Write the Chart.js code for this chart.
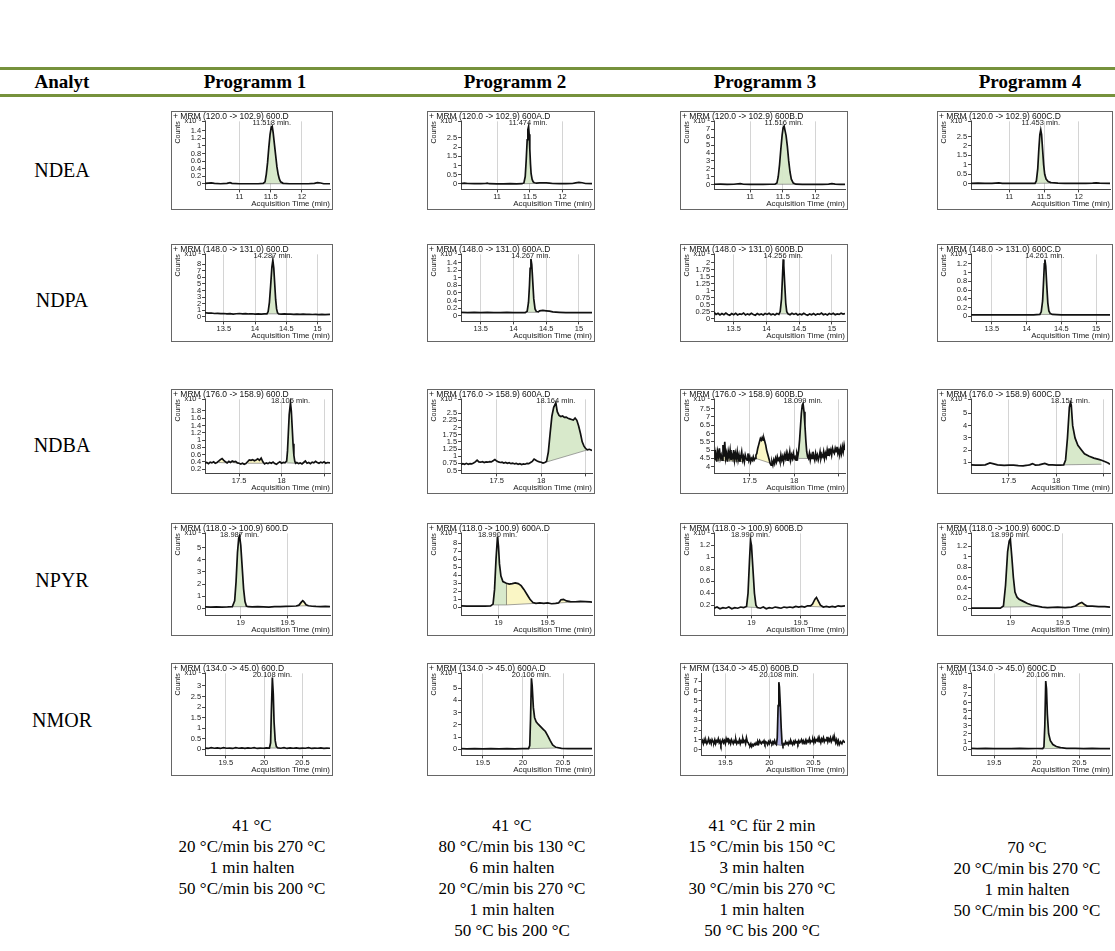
<!DOCTYPE html>
<html>
<head>
<meta charset="utf-8">
<script src="https://cdn.jsdelivr.net/npm/chart.js@4.4.1/dist/chart.umd.min.js"></script>
<style>
  body { margin:0; width:1115px; height:951px; position:relative; overflow:hidden; background:#fff;
         font-family:"Liberation Serif","Times New Roman",serif; color:#000; }
  .rule { position:absolute; left:0; width:1115px; height:3px; background:#76923c; }
  .hd { position:absolute; font-weight:bold; font-size:19px; transform:translate(-50%,-50%); white-space:nowrap; }
  .an { position:absolute; font-size:20px; transform:translate(-50%,-50%); white-space:nowrap; }
  .prog { position:absolute; font-size:17px; line-height:21px; text-align:center; transform:translateX(-50%); white-space:nowrap; }
  .box { position:absolute; border:1px solid #666; box-sizing:border-box; background:#fff; }
  .box canvas { display:block; }
</style>
</head>
<body>
<div class="rule" style="top:67px"></div>
<div class="rule" style="top:94px"></div>
<script>
// ---- table text ----
const analytes = ['NDEA', 'NDPA', 'NDBA', 'NPYR', 'NMOR'];
const programmes = ['Programm 1', 'Programm 2', 'Programm 3', 'Programm 4'];
const temperaturePrograms = [
  ['41 °C', '20 °C/min bis 270 °C', '1 min halten', '50 °C/min bis 200 °C'],
  ['41 °C', '80 °C/min bis 130 °C', '6 min halten', '20 °C/min bis 270 °C', '1 min halten', '50 °C bis 200 °C'],
  ['41 °C für 2 min', '15 °C/min bis 150 °C', '3 min halten', '30 °C/min bis 270 °C', '1 min halten', '50 °C bis 200 °C'],
  ['70 °C', '20 °C/min bis 270 °C', '1 min halten', '50 °C/min bis 200 °C']
];

// ---- chromatogram meta ----
const transitions = ['120.0 -> 102.9', '148.0 -> 131.0', '176.0 -> 158.9', '118.0 -> 100.9', '134.0 -> 45.0'];
const dataFiles = ['600.D', '600A.D', '600B.D', '600C.D'];
const retentionTimes = [
  [11.518, 11.474, 11.516, 11.453],
  [14.287, 14.267, 14.256, 14.261],
  [18.105, 18.164, 18.099, 18.151],
  [18.987, 18.990, 18.990, 18.996],
  [20.108, 20.106, 20.108, 20.106]
];
const countExponents = [[3, 3, 2, 3], [2, 3, 2, 3], [2, 2, 1, 2], [2, 2, 2, 3], [1, 1, 0, 1]];
const timeRanges = [[10.45, 12.45], [13.2, 15.2], [17.1, 18.57], [18.62, 19.95], [19.23, 20.86]];
const timeTicks = [[11, 11.5, 12], [13.5, 14, 14.5, 15], [17.5, 18, 18.5], [19, 19.5], [19.5, 20, 20.5]];
const timeTickLabels = [['11', '11.5', '12'], ['13.5', '14', '14.5', '15'], ['17.5', '18', ''], ['19', '19.5'], ['19.5', '20', '20.5']];

// count axis: [min, max] and labelled ticks (in units of the x10^n factor)
const countRanges = [
  [[-0.15, 1.65], [-0.3, 3.4], [-0.6, 8.0], [-0.3, 3.3]],
  [[-0.7, 9.5], [-0.15, 1.62], [-0.1, 2.3], [-0.12, 1.42]],
  [[0.08, 2.12], [0.4, 2.98], [3.6, 8.05], [0.1, 6.15]],
  [[-0.6, 6.2], [-1.0, 9.2], [0.03, 1.4], [-0.13, 1.45]],
  [[-0.3, 3.6], [-0.5, 6.2], [-0.6, 7.8], [-0.8, 9.8]]
];
const countTicks = [
  [[0, 0.2, 0.4, 0.6, 0.8, 1, 1.2, 1.4], [0, 0.5, 1, 1.5, 2, 2.5], [0, 1, 2, 3, 4, 5, 6, 7], [0, 0.5, 1, 1.5, 2, 2.5]],
  [[0, 1, 2, 3, 4, 5, 6, 7, 8], [0, 0.2, 0.4, 0.6, 0.8, 1, 1.2, 1.4], [0, 0.25, 0.5, 0.75, 1, 1.25, 1.5, 1.75, 2], [0, 0.2, 0.4, 0.6, 0.8, 1, 1.2]],
  [[0.2, 0.4, 0.6, 0.8, 1, 1.2, 1.4, 1.6, 1.8], [0.5, 0.75, 1, 1.25, 1.5, 1.75, 2, 2.25, 2.5], [4, 4.5, 5, 5.5, 6, 6.5, 7, 7.5], [1, 2, 3, 4, 5]],
  [[0, 1, 2, 3, 4, 5], [0, 1, 2, 3, 4, 5, 6, 7, 8], [0.2, 0.4, 0.6, 0.8, 1, 1.2], [0, 0.2, 0.4, 0.6, 0.8, 1, 1.2]],
  [[0, 0.5, 1, 1.5, 2, 2.5, 3], [0, 1, 2, 3, 4, 5], [0, 1, 2, 3, 4, 5, 6, 7], [0, 1, 2, 3, 4, 5, 6, 7, 8]]
];

// ---- traces: [time (min), counts (x10^n)] ----
const NDEA_P1 = [[10.45,0.01],[10.55,0.02],[10.6,0.01],[10.7,0.0],[10.8,0.01],[10.85,0.03],[10.88,0.01],[11.0,0.0],[11.1,0.0],[11.2,0.0],[11.3,0.0],[11.38,0.01],[11.41,0.05],[11.43,0.25],[11.45,0.55],[11.47,0.95],[11.49,1.3],[11.51,1.5],[11.525,1.52],[11.54,1.35],[11.56,1.05],[11.58,0.75],[11.6,0.45],[11.62,0.25],[11.64,0.12],[11.66,0.05],[11.7,0.01],[11.8,0.0],[11.9,0.0],[12.0,0.0],[12.1,0.0],[12.2,0.01],[12.25,0.03],[12.3,0.02],[12.35,0.0],[12.45,0.0]];
const NDEA_P2 = [[10.45,0.02],[10.5,0.04],[10.55,0.02],[10.65,0.01],[10.75,0.01],[10.82,0.02],[10.85,0.04],[10.88,0.01],[11.0,0.0],[11.1,0.0],[11.2,0.01],[11.3,0.0],[11.38,0.01],[11.41,0.05],[11.43,0.4],[11.445,1.3],[11.46,2.4],[11.47,2.95],[11.48,3.1],[11.49,2.7],[11.5,1.9],[11.51,1.1],[11.52,0.55],[11.535,0.25],[11.55,0.12],[11.57,0.06],[11.6,0.04],[11.65,0.05],[11.7,0.05],[11.75,0.05],[11.8,0.04],[11.85,0.02],[11.95,0.01],[12.05,0.01],[12.15,0.02],[12.2,0.05],[12.25,0.08],[12.3,0.06],[12.35,0.02],[12.45,0.01]];
const NDEA_P3 = [[10.45,0.05],[10.55,0.06],[10.65,0.04],[10.75,0.05],[10.85,0.12],[10.9,0.05],[11.0,0.04],[11.1,0.05],[11.2,0.03],[11.3,0.05],[11.38,0.05],[11.41,0.2],[11.43,1.0],[11.45,2.5],[11.47,4.5],[11.49,6.3],[11.505,7.2],[11.52,7.4],[11.535,6.8],[11.55,6.2],[11.57,4.8],[11.59,3.0],[11.61,1.6],[11.63,0.7],[11.66,0.2],[11.7,0.06],[11.8,0.04],[11.9,0.05],[12.0,0.03],[12.1,0.04],[12.2,0.06],[12.25,0.12],[12.3,0.06],[12.38,0.04],[12.45,0.03]];
const NDEA_P4 = [[10.45,0.02],[10.55,0.03],[10.65,0.02],[10.75,0.02],[10.85,0.04],[10.9,0.02],[11.0,0.02],[11.1,0.02],[11.2,0.02],[11.3,0.02],[11.37,0.02],[11.39,0.15],[11.41,0.8],[11.425,1.8],[11.44,2.6],[11.453,2.85],[11.465,2.6],[11.48,1.8],[11.495,1.0],[11.51,0.5],[11.53,0.25],[11.56,0.12],[11.6,0.06],[11.7,0.03],[11.8,0.02],[11.9,0.02],[12.0,0.02],[12.1,0.02],[12.2,0.03],[12.25,0.05],[12.3,0.03],[12.45,0.02]];

const NDPA_P1 = [[13.20,0.62],[13.25,0.55],[13.30,0.58],[13.35,0.50],[13.40,0.52],[13.45,0.47],[13.50,0.50],[13.55,0.44],[13.60,0.48],[13.65,0.42],[13.70,0.46],[13.75,0.50],[13.80,0.45],[13.85,0.48],[13.90,0.43],[13.95,0.46],[14.00,0.42],[14.05,0.45],[14.10,0.41],[14.15,0.44],[14.19,0.45],[14.21,0.8],[14.23,2.2],[14.25,4.8],[14.27,7.6],[14.285,8.6],[14.30,7.4],[14.315,5.0],[14.33,2.6],[14.345,1.2],[14.36,0.6],[14.38,0.45],[14.42,0.42],[14.47,0.44],[14.52,0.40],[14.57,0.42],[14.62,0.38],[14.67,0.41],[14.72,0.37],[14.77,0.40],[14.82,0.36],[14.87,0.38],[14.92,0.35],[14.97,0.38],[15.02,0.34],[15.07,0.37],[15.12,0.33],[15.2,0.36]];
const NDPA_P2 = [[13.2,0.09],[13.3,0.08],[13.4,0.09],[13.5,0.08],[13.6,0.09],[13.7,0.08],[13.8,0.08],[13.9,0.09],[14.0,0.08],[14.1,0.08],[14.18,0.08],[14.21,0.12],[14.23,0.35],[14.245,0.8],[14.255,1.25],[14.267,1.5],[14.28,1.35],[14.295,0.9],[14.31,0.45],[14.33,0.18],[14.35,0.11],[14.38,0.1],[14.40,0.13],[14.45,0.14],[14.5,0.13],[14.55,0.12],[14.6,0.1],[14.7,0.09],[14.8,0.08],[14.9,0.08],[15.0,0.08],[15.1,0.08],[15.2,0.08]];
const NDPA_P3 = [[13.20,0.22],[13.23,0.15],[13.26,0.19],[13.29,0.13],[13.32,0.18],[13.35,0.14],[13.38,0.20],[13.41,0.15],[13.44,0.12],[13.47,0.18],[13.50,0.14],[13.53,0.19],[13.56,0.13],[13.59,0.17],[13.62,0.15],[13.65,0.20],[13.68,0.13],[13.71,0.17],[13.74,0.14],[13.77,0.19],[13.80,0.15],[13.83,0.12],[13.86,0.18],[13.89,0.14],[13.92,0.17],[13.95,0.13],[13.98,0.18],[14.01,0.15],[14.04,0.19],[14.07,0.14],[14.10,0.17],[14.13,0.13],[14.16,0.18],[14.19,0.15],[14.21,0.25],[14.23,0.7],[14.245,1.5],[14.256,2.12],[14.265,1.9],[14.28,1.2],[14.295,0.55],[14.31,0.25],[14.33,0.17],[14.36,0.14],[14.39,0.19],[14.42,0.15],[14.45,0.18],[14.48,0.13],[14.51,0.17],[14.54,0.14],[14.57,0.19],[14.60,0.15],[14.63,0.12],[14.66,0.17],[14.69,0.14],[14.72,0.18],[14.75,0.13],[14.78,0.17],[14.81,0.15],[14.84,0.20],[14.87,0.14],[14.90,0.17],[14.93,0.13],[14.96,0.18],[14.99,0.15],[15.02,0.19],[15.05,0.14],[15.08,0.17],[15.11,0.15],[15.14,0.19],[15.17,0.16],[15.20,0.18]];
const NDPA_P4 = [[13.2,0.03],[13.4,0.03],[13.6,0.03],[13.8,0.03],[14.0,0.03],[14.1,0.03],[14.19,0.04],[14.21,0.1],[14.23,0.35],[14.245,0.85],[14.255,1.2],[14.263,1.3],[14.275,1.15],[14.29,0.7],[14.305,0.3],[14.32,0.12],[14.34,0.06],[14.37,0.04],[14.5,0.03],[14.7,0.03],[14.9,0.03],[15.1,0.03],[15.2,0.03]];

const NDBA_P1 = [[17.10,0.36],[17.12,0.38],[17.14,0.35],[17.16,0.39],[17.18,0.37],[17.20,0.40],[17.22,0.36],[17.24,0.38],[17.26,0.42],[17.28,0.46],[17.30,0.49],[17.32,0.44],[17.34,0.40],[17.36,0.37],[17.38,0.41],[17.40,0.38],[17.42,0.42],[17.44,0.40],[17.46,0.41],[17.48,0.37],[17.50,0.36],[17.52,0.34],[17.54,0.36],[17.56,0.33],[17.58,0.35],[17.60,0.40],[17.62,0.45],[17.64,0.44],[17.66,0.46],[17.68,0.43],[17.70,0.45],[17.72,0.48],[17.74,0.44],[17.76,0.50],[17.78,0.40],[17.80,0.34],[17.82,0.37],[17.84,0.35],[17.86,0.38],[17.88,0.36],[17.90,0.39],[17.92,0.35],[17.94,0.33],[17.96,0.37],[17.98,0.40],[18.00,0.36],[18.02,0.38],[18.04,0.37],[18.06,0.42],[18.07,0.7],[18.08,1.2],[18.09,1.7],[18.105,2.03],[18.115,1.8],[18.125,1.35],[18.135,0.9],[18.145,0.58],[18.155,0.42],[18.165,0.36],[18.18,0.38],[18.20,0.35],[18.22,0.37],[18.24,0.34],[18.26,0.38],[18.28,0.42],[18.30,0.36],[18.32,0.38],[18.34,0.35],[18.36,0.39],[18.38,0.37],[18.40,0.41],[18.42,0.38],[18.44,0.36],[18.46,0.39],[18.48,0.37],[18.50,0.40],[18.52,0.36],[18.54,0.38],[18.57,0.37]];
const NDBA_P2 = [[17.10,0.70],[17.12,0.74],[17.14,0.72],[17.16,0.75],[17.18,0.72],[17.20,0.74],[17.22,0.73],[17.24,0.76],[17.26,0.80],[17.28,0.86],[17.30,0.80],[17.32,0.79],[17.34,0.81],[17.36,0.78],[17.38,0.80],[17.40,0.79],[17.42,0.81],[17.44,0.80],[17.46,0.84],[17.48,0.88],[17.50,0.83],[17.52,0.80],[17.54,0.78],[17.56,0.79],[17.58,0.76],[17.60,0.78],[17.62,0.75],[17.64,0.77],[17.66,0.74],[17.68,0.76],[17.70,0.73],[17.72,0.75],[17.74,0.72],[17.76,0.74],[17.78,0.71],[17.80,0.73],[17.82,0.72],[17.84,0.75],[17.86,0.74],[17.88,0.78],[17.90,0.82],[17.92,0.90],[17.94,0.86],[17.96,0.82],[17.98,0.80],[18.00,0.79],[18.02,0.76],[18.04,0.78],[18.06,0.82],[18.08,1.15],[18.10,1.8],[18.12,2.4],[18.14,2.7],[18.164,2.86],[18.18,2.55],[18.20,2.42],[18.22,2.38],[18.24,2.40],[18.26,2.35],[18.28,2.36],[18.30,2.32],[18.32,2.30],[18.34,2.28],[18.36,2.26],[18.38,2.33],[18.40,2.25],[18.42,2.05],[18.44,1.80],[18.46,1.50],[18.48,1.35],[18.50,1.26],[18.52,1.22],[18.54,1.24],[18.57,1.20]];
const NDBA_P3 = [[17.08,4.9],[17.09,4.5],[17.10,5.0],[17.11,4.4],[17.12,4.8],[17.13,4.3],[17.14,4.9],[17.15,4.6],[17.16,5.1],[17.17,4.5],[17.18,4.7],[17.19,4.4],[17.20,5.3],[17.21,4.6],[17.22,5.5],[17.23,4.5],[17.24,4.8],[17.25,4.3],[17.26,4.9],[17.27,4.6],[17.28,5.0],[17.29,4.4],[17.30,4.7],[17.31,4.5],[17.32,5.0],[17.33,4.4],[17.34,4.8],[17.35,4.5],[17.36,4.9],[17.37,4.4],[17.38,4.7],[17.39,4.3],[17.40,4.6],[17.41,4.9],[17.42,4.4],[17.43,4.6],[17.44,4.3],[17.45,4.7],[17.46,4.5],[17.47,4.4],[17.48,4.8],[17.49,4.4],[17.50,4.6],[17.51,4.3],[17.52,4.5],[17.53,4.4],[17.54,4.6],[17.55,4.4],[17.56,4.5],[17.57,4.7],[17.58,4.8],[17.59,5.1],[17.60,5.3],[17.61,5.5],[17.62,5.7],[17.63,5.6],[17.64,5.75],[17.65,5.6],[17.66,5.7],[17.67,5.5],[17.68,5.3],[17.69,5.0],[17.70,4.8],[17.71,4.6],[17.72,4.4],[17.73,4.2],[17.74,4.1],[17.75,4.3],[17.76,4.1],[17.77,4.4],[17.78,4.2],[17.79,4.5],[17.80,4.3],[17.81,4.6],[17.82,4.4],[17.83,4.5],[17.84,4.3],[17.85,4.7],[17.86,4.4],[17.87,4.6],[17.88,4.3],[17.89,4.7],[17.90,4.5],[17.91,4.8],[17.92,4.4],[17.93,4.7],[17.94,4.5],[17.95,4.9],[17.96,4.4],[17.97,4.7],[17.98,4.5],[17.99,4.8],[18.00,4.5],[18.01,4.6],[18.02,4.4],[18.03,4.8],[18.04,4.6],[18.05,5.0],[18.06,5.6],[18.07,6.4],[18.08,7.2],[18.09,7.7],[18.099,7.8],[18.11,7.3],[18.12,6.5],[18.13,5.6],[18.14,4.9],[18.15,4.6],[18.16,4.5],[18.17,4.8],[18.18,4.4],[18.19,4.7],[18.20,4.5],[18.21,4.9],[18.22,4.6],[18.23,4.4],[18.24,4.8],[18.25,4.5],[18.26,4.7],[18.27,4.4],[18.28,4.6],[18.29,4.9],[18.30,4.5],[18.31,4.7],[18.32,4.6],[18.33,4.9],[18.34,4.5],[18.35,4.8],[18.36,4.6],[18.37,5.0],[18.38,4.7],[18.39,5.1],[18.40,4.8],[18.41,5.0],[18.42,4.7],[18.43,5.1],[18.44,4.9],[18.45,4.8],[18.46,5.1],[18.47,4.9],[18.48,5.2],[18.49,4.8],[18.50,5.0],[18.51,4.7],[18.52,5.1],[18.53,4.8],[18.54,5.2],[18.55,4.9],[18.56,5.3],[18.57,5.0]];
const NDBA_P4 = [[17.10,0.8],[17.15,0.78],[17.2,0.78],[17.25,0.8],[17.3,0.95],[17.33,0.9],[17.38,0.8],[17.45,0.75],[17.5,0.77],[17.55,0.78],[17.6,0.74],[17.65,0.72],[17.7,0.77],[17.72,0.8],[17.75,0.9],[17.78,0.78],[17.82,0.8],[17.85,0.86],[17.88,0.92],[17.92,0.8],[17.96,0.79],[18.0,0.78],[18.04,0.77],[18.08,0.8],[18.1,1.2],[18.12,3.0],[18.14,5.5],[18.151,5.9],[18.16,5.7],[18.175,4.0],[18.2,3.0],[18.23,2.4],[18.27,2.0],[18.3,1.7],[18.35,1.5],[18.4,1.35],[18.45,1.25],[18.48,1.18],[18.52,1.05],[18.55,0.95],[18.57,0.85]];

const NPYR_P1 = [[18.62,0.10],[18.68,0.08],[18.74,0.10],[18.80,0.09],[18.86,0.10],[18.91,0.12],[18.935,0.6],[18.95,2.2],[18.965,4.6],[18.978,5.8],[18.987,6.0],[19.00,5.2],[19.015,3.4],[19.03,1.6],[19.045,0.55],[19.06,0.18],[19.08,0.12],[19.12,0.11],[19.18,0.12],[19.24,0.10],[19.30,0.09],[19.36,0.13],[19.42,0.12],[19.48,0.15],[19.54,0.16],[19.59,0.18],[19.62,0.25],[19.645,0.5],[19.66,0.62],[19.675,0.5],[19.695,0.28],[19.72,0.2],[19.76,0.16],[19.80,0.14],[19.85,0.13],[19.90,0.15],[19.95,0.12]];
const NPYR_P2 = [[18.62,0.18],[18.68,0.16],[18.74,0.17],[18.80,0.15],[18.86,0.16],[18.92,0.17],[18.945,0.4],[18.96,2.2],[18.975,6.0],[18.99,8.8],[19.0,7.6],[19.01,5.4],[19.025,3.9],[19.045,3.2],[19.08,3.0],[19.11,2.9],[19.14,2.95],[19.17,3.05],[19.20,2.95],[19.23,2.7],[19.26,2.2],[19.29,1.6],[19.32,1.0],[19.35,0.6],[19.38,0.5],[19.42,0.55],[19.46,0.5],[19.50,0.55],[19.54,0.45],[19.58,0.5],[19.61,0.55],[19.635,0.95],[19.66,1.0],[19.69,0.8],[19.73,0.72],[19.78,0.7],[19.83,0.75],[19.88,0.72],[19.93,0.68],[19.95,0.65]];
const NPYR_P3 = [[18.62,0.15],[18.65,0.17],[18.68,0.14],[18.71,0.16],[18.74,0.15],[18.77,0.17],[18.80,0.14],[18.83,0.16],[18.86,0.15],[18.89,0.17],[18.92,0.16],[18.95,0.18],[18.965,0.4],[18.98,0.95],[18.99,1.28],[19.0,1.2],[19.015,0.8],[19.03,0.4],[19.045,0.2],[19.06,0.16],[19.09,0.15],[19.12,0.17],[19.15,0.14],[19.18,0.16],[19.21,0.15],[19.24,0.17],[19.27,0.16],[19.30,0.15],[19.33,0.17],[19.36,0.16],[19.39,0.17],[19.42,0.16],[19.45,0.18],[19.48,0.17],[19.51,0.18],[19.54,0.17],[19.57,0.19],[19.60,0.19],[19.62,0.22],[19.645,0.3],[19.66,0.33],[19.675,0.28],[19.70,0.2],[19.73,0.17],[19.76,0.18],[19.79,0.17],[19.82,0.18],[19.85,0.17],[19.88,0.19],[19.91,0.18],[19.95,0.19]];
const NPYR_P4 = [[18.62,0.01],[18.70,0.01],[18.80,0.01],[18.90,0.01],[18.93,0.05],[18.95,0.45],[18.97,1.1],[18.985,1.3],[18.996,1.34],[19.01,1.0],[19.025,0.6],[19.04,0.32],[19.06,0.22],[19.08,0.18],[19.12,0.14],[19.16,0.1],[19.2,0.07],[19.25,0.05],[19.3,0.03],[19.35,0.02],[19.45,0.03],[19.52,0.02],[19.58,0.03],[19.62,0.05],[19.655,0.1],[19.68,0.12],[19.705,0.08],[19.73,0.05],[19.78,0.05],[19.84,0.04],[19.9,0.04],[19.95,0.03]];

const NMOR_P1 = [[19.23,0.05],[19.27,0.03],[19.31,0.07],[19.35,0.04],[19.39,0.06],[19.43,0.03],[19.47,0.07],[19.51,0.04],[19.55,0.05],[19.59,0.03],[19.63,0.07],[19.67,0.04],[19.71,0.06],[19.75,0.03],[19.79,0.06],[19.83,0.04],[19.87,0.07],[19.91,0.03],[19.95,0.05],[19.99,0.04],[20.03,0.06],[20.07,0.05],[20.085,0.3],[20.095,1.8],[20.108,3.4],[20.12,2.6],[20.13,1.3],[20.145,0.4],[20.16,0.12],[20.18,0.06],[20.22,0.04],[20.26,0.07],[20.30,0.03],[20.34,0.06],[20.38,0.04],[20.42,0.06],[20.46,0.03],[20.50,0.05],[20.54,0.04],[20.58,0.07],[20.62,0.03],[20.66,0.05],[20.70,0.04],[20.74,0.06],[20.78,0.03],[20.82,0.05],[20.86,0.04]];
const NMOR_P2 = [[19.23,0.05],[19.3,0.04],[19.4,0.05],[19.5,0.04],[19.6,0.05],[19.7,0.04],[19.8,0.05],[19.9,0.04],[20.0,0.05],[20.07,0.05],[20.085,0.3],[20.095,2.5],[20.106,5.8],[20.115,5.2],[20.13,3.4],[20.145,2.6],[20.165,2.25],[20.19,2.05],[20.22,1.85],[20.25,1.65],[20.28,1.45],[20.31,1.1],[20.34,0.7],[20.37,0.35],[20.41,0.16],[20.48,0.08],[20.56,0.06],[20.66,0.05],[20.76,0.05],[20.86,0.05]];
const NMOR_P3 = [[19.23,0.7],[19.24,0.9],[19.25,0.6],[19.26,1.0],[19.27,0.7],[19.28,0.9],[19.29,0.6],[19.30,0.8],[19.31,1.1],[19.32,0.7],[19.33,0.9],[19.34,0.6],[19.35,1.0],[19.36,0.8],[19.37,0.7],[19.38,1.0],[19.39,0.6],[19.40,0.9],[19.41,0.8],[19.42,1.1],[19.43,0.7],[19.44,0.9],[19.45,0.5],[19.46,0.8],[19.47,1.0],[19.48,0.7],[19.49,0.9],[19.50,0.6],[19.51,1.1],[19.52,0.8],[19.53,1.2],[19.54,0.7],[19.55,0.9],[19.56,0.6],[19.57,1.0],[19.58,0.8],[19.59,0.6],[19.60,0.9],[19.61,0.7],[19.62,1.0],[19.63,0.6],[19.64,0.8],[19.65,0.7],[19.66,1.0],[19.67,0.6],[19.68,0.9],[19.69,0.7],[19.70,1.1],[19.71,0.8],[19.72,0.9],[19.73,0.6],[19.74,1.2],[19.75,0.8],[19.76,0.7],[19.77,0.5],[19.78,0.4],[19.79,0.6],[19.80,0.3],[19.81,0.5],[19.82,0.4],[19.83,0.6],[19.84,0.5],[19.85,0.7],[19.86,0.5],[19.87,0.8],[19.88,0.6],[19.89,0.9],[19.90,0.7],[19.91,0.6],[19.92,0.8],[19.93,0.7],[19.94,0.9],[19.95,0.6],[19.96,0.8],[19.97,0.7],[19.98,0.5],[19.99,0.8],[20.00,0.6],[20.01,0.9],[20.02,0.7],[20.03,0.6],[20.04,0.8],[20.05,0.6],[20.06,0.9],[20.07,0.6],[20.08,0.5],[20.09,1.2],[20.10,4.5],[20.108,6.9],[20.115,6.4],[20.125,4.5],[20.135,2.2],[20.145,0.6],[20.155,0.4],[20.165,0.6],[20.175,0.5],[20.185,0.8],[20.195,0.6],[20.205,0.7],[20.215,0.5],[20.225,0.8],[20.235,0.6],[20.245,0.9],[20.255,0.7],[20.265,0.5],[20.275,0.8],[20.285,0.6],[20.295,0.9],[20.305,0.7],[20.315,0.8],[20.325,0.6],[20.335,0.9],[20.345,0.7],[20.355,0.8],[20.365,1.0],[20.375,0.7],[20.385,0.9],[20.395,0.6],[20.405,0.8],[20.415,1.0],[20.425,0.7],[20.435,0.9],[20.445,0.8],[20.455,1.1],[20.465,0.7],[20.475,0.9],[20.485,0.8],[20.495,1.0],[20.505,0.7],[20.515,1.1],[20.525,0.8],[20.535,1.0],[20.545,0.9],[20.555,1.2],[20.565,0.8],[20.575,1.0],[20.585,0.7],[20.595,1.1],[20.605,0.9],[20.615,1.2],[20.625,0.8],[20.635,1.0],[20.645,0.9],[20.655,1.3],[20.665,0.8],[20.675,1.1],[20.685,0.9],[20.695,1.2],[20.705,0.8],[20.715,1.0],[20.725,1.3],[20.735,0.9],[20.745,1.1],[20.755,0.7],[20.765,1.0],[20.775,0.6],[20.785,0.9],[20.795,0.5],[20.81,0.8],[20.825,0.6],[20.84,0.9],[20.86,0.7]];
const NMOR_P4 = [[19.23,0.1],[19.3,0.08],[19.4,0.1],[19.5,0.07],[19.6,0.09],[19.7,0.07],[19.8,0.1],[19.9,0.08],[20.0,0.09],[20.07,0.08],[20.085,0.3],[20.095,3.0],[20.106,8.8],[20.115,7.8],[20.125,4.5],[20.14,2.0],[20.16,1.1],[20.19,0.6],[20.23,0.35],[20.28,0.2],[20.35,0.12],[20.45,0.1],[20.55,0.08],[20.65,0.1],[20.75,0.08],[20.86,0.08]];

// integrated areas: [from, to, baseline at from, baseline at to, kind, draw split line]
const NDEA_P1_AREAS = [[11.38, 11.7, 0.0, 0.0, 'peak']];
const NDEA_P2_AREAS = [[11.41, 11.57, 0.01, 0.02, 'peak']];
const NDEA_P3_AREAS = [[11.38, 11.7, 0.05, 0.05, 'peak']];
const NDEA_P4_AREAS = [[11.37, 11.6, 0.02, 0.03, 'peak']];
const NDPA_P1_AREAS = [[14.19, 14.38, 0.45, 0.45, 'peak']];
const NDPA_P2_AREAS = [[14.21, 14.35, 0.09, 0.09, 'peak']];
const NDPA_P3_AREAS = [[14.21, 14.33, 0.17, 0.17, 'peak']];
const NDPA_P4_AREAS = [[14.19, 14.34, 0.04, 0.04, 'peak']];
const NDBA_P1_AREAS = [[17.26, 17.36, 0.38, 0.37, 'other'], [17.42, 17.50, 0.38, 0.36, 'other'], [17.60, 17.78, 0.36, 0.36, 'other'], [18.06, 18.165, 0.37, 0.36, 'peak']];
const NDBA_P2_AREAS = [[18.04, 18.52, 0.78, 1.22, 'peak']];
const NDBA_P3_AREAS = [[17.08, 17.45, 4.4, 4.3, 'other'], [17.57, 17.74, 4.5, 4.2, 'other'], [18.05, 18.16, 4.5, 4.5, 'peak']];
const NDBA_P4_AREAS = [[18.08, 18.48, 0.8, 0.85, 'peak']];
const NPYR_P1_AREAS = [[18.91, 19.08, 0.12, 0.12, 'peak'], [19.59, 19.72, 0.18, 0.2, 'other']];
const NPYR_P2_AREAS = [[18.945, 19.08, 0.3, 0.3, 'peak'], [19.08, 19.38, 0.3, 0.5, 'other', true], [19.61, 19.83, 0.55, 0.7, 'other']];
const NPYR_P3_AREAS = [[18.95, 19.06, 0.17, 0.16, 'peak'], [19.60, 19.73, 0.18, 0.17, 'other']];
const NPYR_P4_AREAS = [[18.93, 19.25, 0.03, 0.04, 'peak'], [19.62, 19.73, 0.04, 0.04, 'other']];
const NMOR_P1_AREAS = [[20.07, 20.18, 0.05, 0.05, 'peak']];
const NMOR_P2_AREAS = [[20.07, 20.41, 0.05, 0.1, 'peak']];
const NMOR_P3_AREAS = [[20.08, 20.155, 0.5, 0.4, 'marked']];
const NMOR_P4_AREAS = [[20.07, 20.28, 0.08, 0.1, 'peak']];

const traces = [
  [NDEA_P1, NDEA_P2, NDEA_P3, NDEA_P4],
  [NDPA_P1, NDPA_P2, NDPA_P3, NDPA_P4],
  [NDBA_P1, NDBA_P2, NDBA_P3, NDBA_P4],
  [NPYR_P1, NPYR_P2, NPYR_P3, NPYR_P4],
  [NMOR_P1, NMOR_P2, NMOR_P3, NMOR_P4]
];
const areas = [
  [NDEA_P1_AREAS, NDEA_P2_AREAS, NDEA_P3_AREAS, NDEA_P4_AREAS],
  [NDPA_P1_AREAS, NDPA_P2_AREAS, NDPA_P3_AREAS, NDPA_P4_AREAS],
  [NDBA_P1_AREAS, NDBA_P2_AREAS, NDBA_P3_AREAS, NDBA_P4_AREAS],
  [NPYR_P1_AREAS, NPYR_P2_AREAS, NPYR_P3_AREAS, NPYR_P4_AREAS],
  [NMOR_P1_AREAS, NMOR_P2_AREAS, NMOR_P3_AREAS, NMOR_P4_AREAS]
];

// ---- page geometry ----
const colBoxes = [[171, 162], [427, 168], [680, 168], [937, 176]];
const rowBoxes = [[111, 99], [244, 98], [389, 105], [523, 113], [663, 113]];
const colCentres = [255, 515, 765, 1030];
const analyteY = [170, 300, 445, 580, 720];
const programTextTop = [815, 815, 815, 837];

const AREA_FILL = { peak: 'rgba(214,232,200,0.95)', other: 'rgba(250,245,194,0.95)', marked: 'rgba(170,170,222,0.95)' };
const SUPERSCRIPT = { 1: '\u00b9', 2: '\u00b2', 3: '\u00b3' };

Chart.defaults.font.family = '"Liberation Sans", Arial, Helvetica, sans-serif';
Chart.defaults.font.size = 7.5;
Chart.defaults.color = '#222';
Chart.defaults.animation = false;

function addText(cls, text, styles) {
  const d = document.createElement('div');
  d.className = cls; d.textContent = text;
  Object.assign(d.style, styles);
  document.body.appendChild(d);
  return d;
}
addText('hd', 'Analyt', { left: '62px', top: '82px' });
programmes.forEach((p, i) => addText('hd', p, { left: colCentres[i] + 'px', top: '82px' }));
analytes.forEach((a, i) => addText('an', a, { left: '62px', top: analyteY[i] + 'px' }));
temperaturePrograms.forEach((lines, i) => {
  const d = addText('prog', '', { left: (colCentres[i] - 3) + 'px', top: programTextTop[i] + 'px' });
  lines.forEach((l, k) => {
    if (k) d.appendChild(document.createElement('br'));
    d.appendChild(document.createTextNode(l));
  });
});

// retention time label above each peak
const rtLabel = {
  id: 'rtLabel',
  afterDatasetsDraw(chart, args, opts) {
    const { ctx, chartArea, scales } = chart;
    const px = scales.x.getPixelForValue(opts.rt);
    ctx.save();
    ctx.font = '7.5px "Liberation Sans", Arial, sans-serif';
    ctx.fillStyle = '#222';
    ctx.textAlign = 'center';
    ctx.textBaseline = 'top';
    ctx.fillText(opts.rt.toFixed(3) + ' min.', px, chartArea.top - 2);
    ctx.restore();
  }
};

function fmt(v) { return String(parseFloat(v.toFixed(3))); }

function buildDatasets(trace, areaList) {
  const pts = trace.map(([x, y]) => ({ x, y }));
  const ds = [{ data: pts, borderColor: '#111', borderWidth: 1.7, pointRadius: 0, fill: false, tension: 0 }];
  areaList.forEach(a => {
    const [t0, t1, b0, b1, kind, split] = a;
    const seg = pts.filter(p => p.x >= t0 - 1e-9 && p.x <= t1 + 1e-9);
    const baseIndex = ds.length;
    ds.push({ data: [{ x: t0, y: b0 }, { x: t1, y: b1 }], borderColor: 'rgba(110,110,110,0.9)', borderWidth: 0.7, pointRadius: 0, fill: false, tension: 0 });
    ds.push({ data: seg, borderWidth: 0, borderColor: 'rgba(0,0,0,0)', pointRadius: 0, backgroundColor: AREA_FILL[kind], fill: baseIndex, tension: 0 });
    if (split) {
      ds.push({ data: [{ x: t0, y: b0 }, { x: seg[0].x, y: seg[0].y }], borderColor: '#222', borderWidth: 1, pointRadius: 0, fill: false });
    }
  });
  return ds;
}

rowBoxes.forEach(([top, h], r) => {
  colBoxes.forEach(([left, w], c) => {
    const box = document.createElement('div');
    box.className = 'box';
    Object.assign(box.style, { left: left + 'px', top: top + 'px', width: w + 'px', height: h + 'px' });
    const cv = document.createElement('canvas');
    cv.width = w - 2; cv.height = h - 2;
    box.appendChild(cv);
    document.body.appendChild(box);

    const [ymin, ymax] = countRanges[r][c];
    const exp = countExponents[r][c];
    const yList = countTicks[r][c].slice();
    if (exp) yList.push(ymax);
    const [xmin, xmax] = timeRanges[r];

    new Chart(cv, {
      type: 'line',
      data: { datasets: buildDatasets(traces[r][c], areas[r][c]) },
      options: {
        responsive: false,
        animation: false,
        events: [],
        layout: { padding: { left: 1, right: 2, top: 0, bottom: 0 } },
        plugins: {
          legend: { display: false },
          tooltip: { enabled: false },
          title: {
            display: true, align: 'start', color: '#111',
            text: '+ MRM (' + transitions[r] + ') ' + dataFiles[c],
            font: { size: 8.5, weight: 'normal', lineHeight: 1.1 }, padding: { top: 0, bottom: 0 }
          },
          rtLabel: { rt: retentionTimes[r][c] }
        },
        scales: {
          x: {
            type: 'linear', min: xmin, max: xmax,
            afterBuildTicks: s => { s.ticks = timeTicks[r].map(v => ({ value: v })); },
            ticks: {
              autoSkip: false, maxRotation: 0, padding: 0, color: '#222', font: { size: 7.5 },
              callback: (v, i) => timeTickLabels[r][i]
            },
            grid: { color: '#d4d4d4', lineWidth: 1, tickColor: '#444', tickLength: 3 },
            border: { color: '#444', width: 1 },
            title: { display: true, text: 'Acquisition Time (min)', align: 'end', color: '#222', font: { size: 8 }, padding: { top: -2, bottom: 0 } }
          },
          y: {
            type: 'linear', min: ymin, max: ymax,
            afterBuildTicks: s => { s.ticks = yList.map(v => ({ value: v })); },
            ticks: {
              autoSkip: false, padding: 1, color: '#222', font: { size: 7.5 },
              callback: (v, i, arr) => (exp && i === arr.length - 1) ? 'x10 ' + SUPERSCRIPT[exp] : fmt(v)
            },
            grid: { drawOnChartArea: false, tickColor: '#444', tickLength: 3 },
            border: { color: '#444', width: 1 },
            title: { display: true, text: 'Counts', align: 'end', color: '#222', font: { size: 7 }, padding: { top: 1, bottom: 1 } }
          }
        }
      },
      plugins: [rtLabel]
    });
  });
});
</script>
</body>
</html>
